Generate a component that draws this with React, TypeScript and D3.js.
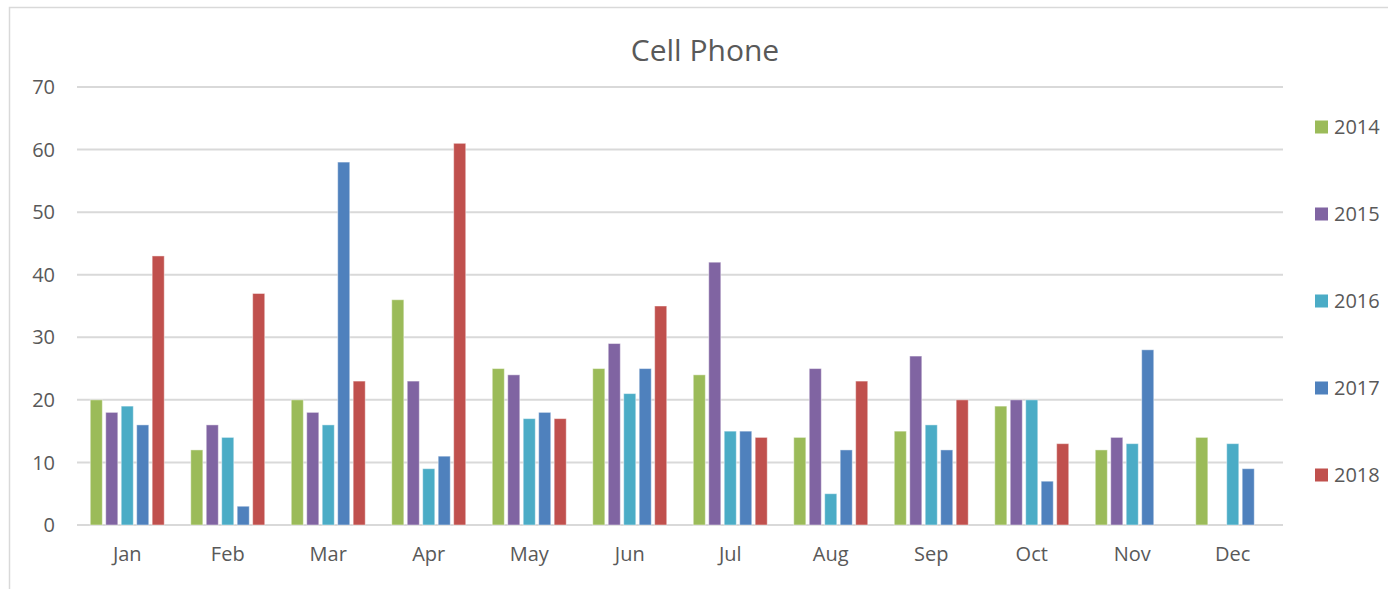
import React from "react";
import * as d3 from "d3";

const months = ["Jan", "Feb", "Mar", "Apr", "May", "Jun", "Jul", "Aug", "Sep", "Oct", "Nov", "Dec"];
const years = ["2014", "2015", "2016", "2017", "2018"];
const colors = ["#9bbb59", "#8064a2", "#4bacc6", "#4f81bd", "#c0504d"];

// one array per year, null = no bar
const s2014 = [20, 12, 20, 36, 25, 25, 24, 14, 15, 19, 12, 14];
const s2015 = [18, 16, 18, 23, 24, 29, 42, 25, 27, 20, 14, null];
const s2016 = [19, 14, 16, 9, 17, 21, 15, 5, 16, 20, 13, 13];
const s2017 = [16, 3, 58, 11, 18, 25, 15, 12, 12, 7, 28, 9];
const s2018 = [43, 37, 23, 61, 17, 35, 14, 23, 20, 13, null, null];
const series = [s2014, s2015, s2016, s2017, s2018];

const yTicks = [0, 10, 20, 30, 40, 50, 60, 70];

const W = 1388,
  H = 589;
const font = "'Open Sans', sans-serif";
const textColor = "#595959";

export default function App() {
  const left = 77,
    right = 1283,
    top = 87,
    bottom = 525;

  const x0 = d3.scaleBand().domain(months).range([left, right]).paddingInner(0.23).paddingOuter(0.115);
  const x1 = d3.scaleBand().domain(years).range([0, x0.bandwidth()]).paddingInner(0.22).paddingOuter(0.11);
  const y = d3.scaleLinear().domain([0, 70]).range([bottom, top]);

  const legendY = d3.scaleLinear().domain([0, 4]).range([127, 475]);

  const bars = [];
  series.forEach((vals, si) => {
    vals.forEach((v, mi) => {
      if (v == null) return;
      bars.push(
        <rect
          key={years[si] + "-" + months[mi]}
          x={x0(months[mi]) + x1(years[si])}
          y={y(v)}
          width={x1.bandwidth()}
          height={bottom - y(v)}
          fill={colors[si]}
          stroke="#ffffff"
          strokeOpacity={0.45}
          strokeWidth={1}
        />
      );
    });
  });

  return (
    <svg width={W} height={H} style={{ position: "absolute", left: 0, top: 0 }} fontFamily={font}>
      <rect x={0} y={0} width={W} height={H} fill="#fff" />
      <rect x={9.5} y={7.5} width={1500} height={700} fill="none" stroke="#d9d9d9" strokeWidth={1.5} />

      <text x={705} y={61} textAnchor="middle" fontSize={30} fill={textColor}>
        Cell Phone
      </text>

      <g>
        {yTicks.map((t) => (
          <g key={"tick" + t}>
            <line x1={left} x2={right} y1={y(t)} y2={y(t)} stroke="#d9d9d9" strokeWidth={2} />
            <text x={55} y={y(t)} dy="0.36em" textAnchor="end" fontSize={20} fill={textColor}>
              {t}
            </text>
          </g>
        ))}
      </g>

      <g>{bars}</g>

      <g>
        {months.map((m) => (
          <text key={m} x={x0(m) + x0.bandwidth() / 2} y={561} textAnchor="middle" fontSize={20} fill={textColor}>
            {m}
          </text>
        ))}
      </g>

      <g>
        {years.map((yr, i) => (
          <g key={"leg" + yr}>
            <rect x={1315} y={legendY(i) - 6.5} width={13} height={13} fill={colors[i]} />
            <text x={1334} y={legendY(i)} dy="0.36em" fontSize={20} fill={textColor}>
              {yr}
            </text>
          </g>
        ))}
      </g>
    </svg>
  );
}
